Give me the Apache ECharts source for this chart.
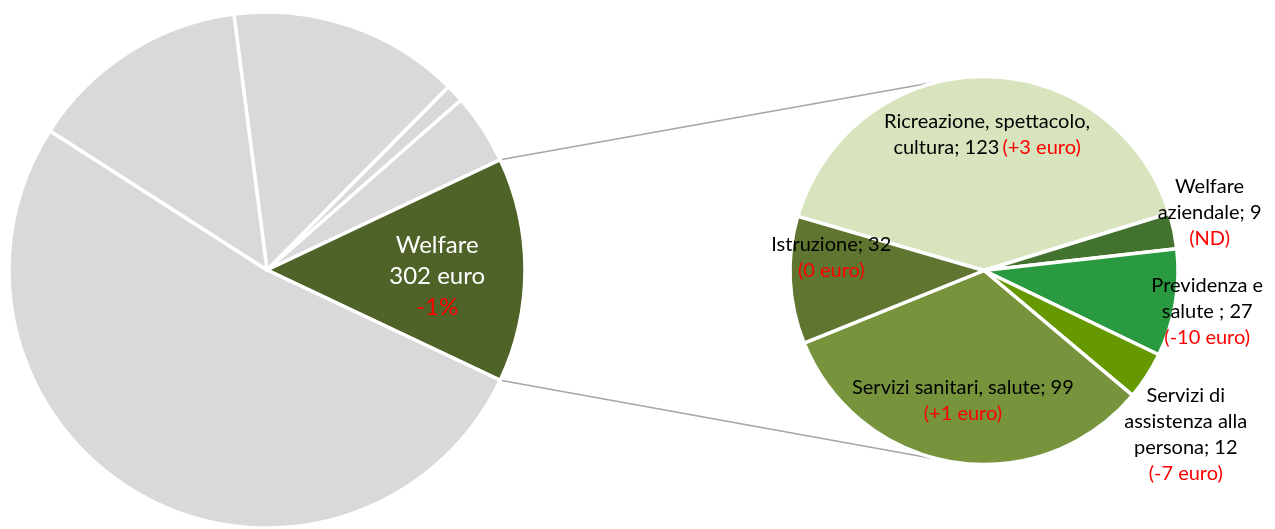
<!DOCTYPE html>
<html>
<head>
<meta charset="utf-8">
<script src="https://cdn.jsdelivr.net/npm/echarts@6/dist/echarts.min.js"></script>
<style>
  html, body { margin: 0; padding: 0; background: #ffffff; }
  #chart { width: 1275px; height: 529px; }
</style>
</head>
<body>
<div id="chart"></div>
<script>
// Main pie: household spending split, with the welfare share broken out
const mainNames = ['Voce A', 'Voce B', 'Voce C', 'Welfare', 'Voce D', 'Voce E'];
const mainValues = [311, 24, 95, 302, 1118, 298];
const mainChanges = ['', '', '', '-1%', '', ''];
const splitIndex = 3;

// Detail pie: welfare spending (euro) and change on the previous year
const detailNames = [
  'Ricreazione, spettacolo,\ncultura',
  'Welfare\naziendale',
  'Previdenza e\nsalute ',
  'Servizi di\nassistenza alla\npersona',
  'Servizi sanitari, salute',
  'Istruzione'
];
const detailValues = [123, 9, 27, 12, 99, 32];
const detailChanges = ['(+3 euro)', '(ND)', '(-10 euro)', '(-7 euro)', '(+1 euro)', '(0 euro)'];

// ---- layout and styling ----
const FONT = 'Lato, "Open Sans", sans-serif';
const L = { cx: 267, cy: 270, r: 258 };
const R = { cx: 984, cy: 270.5, r: 194 };
const grey = '#D9D9D9';
const welfareColor = '#4F6228';
const detailColors = ['#D7E4BD', '#43722F', '#2A9A40', '#669900', '#77933C', '#5F7530'];
const detailStart = 163.8;
// label anchors: [fraction of radius, angle in degrees]
const detailAnchors = [[0.70, 88.7], [1.20, 14.3], [1.17, -10.5], [1.34, -39.1], [0.68, -99.2], [0.79, 175.3]];
const changeSameLine = [true, false, false, false, false, false];
const mainAnchor = [0.66, -2];

const rad = d => d * Math.PI / 180;
const total = mainValues.reduce((a, b) => a + b, 0);
const before = mainValues.slice(0, splitIndex).reduce((a, b) => a + b, 0);
const splitVal = mainValues[splitIndex];
// centre the broken-out slice on the horizontal axis
const mainStart = (before + splitVal / 2) / total * 360;
const edgeTop = mainStart - before / total * 360;
const edgeBottom = edgeTop - splitVal / total * 360;

function polar(c, f, a) {
  return [c.cx + f * c.r * Math.cos(rad(a)), c.cy - f * c.r * Math.sin(rad(a))];
}

// tangent point from an outside point to the detail circle
function tangent(p, upper) {
  const dx = R.cx - p[0], dy = R.cy - p[1];
  const d = Math.hypot(dx, dy);
  const base = Math.atan2(dy, dx);
  const alpha = Math.asin(R.r / d);
  const t = Math.sqrt(d * d - R.r * R.r);
  const dir = upper ? base - alpha : base + alpha;
  return [p[0] + t * Math.cos(dir), p[1] + t * Math.sin(dir)];
}

const pTop = polar(L, 1, edgeTop);
const pBot = polar(L, 1, edgeBottom);
const tTop = tangent(pTop, true);
const tBot = tangent(pBot, false);

const mainData = mainNames.map((n, i) => ({
  name: n,
  value: mainValues[i],
  itemStyle: { color: i === splitIndex ? welfareColor : grey },
  label: { show: i === splitIndex }
}));

const detailData = detailNames.map((n, i) => ({
  name: n,
  value: detailValues[i],
  itemStyle: { color: detailColors[i] }
}));

const chart = echarts.init(document.getElementById('chart'), null, { renderer: 'canvas' });

chart.setOption({
  backgroundColor: '#ffffff',
  animation: false,
  graphic: [
    { type: 'line', z: 0, shape: { x1: pTop[0], y1: pTop[1], x2: tTop[0], y2: tTop[1] },
      style: { stroke: '#A6A6A6', lineWidth: 1.6 } },
    { type: 'line', z: 0, shape: { x1: pBot[0], y1: pBot[1], x2: tBot[0], y2: tBot[1] },
      style: { stroke: '#A6A6A6', lineWidth: 1.6 } }
  ],
  series: [
    {
      type: 'pie',
      silent: true,
      center: [L.cx, L.cy],
      radius: L.r,
      startAngle: mainStart,
      clockwise: true,
      avoidLabelOverlap: false,
      itemStyle: { borderColor: '#ffffff', borderWidth: 3.5 },
      label: {
        position: 'inside',
        fontFamily: FONT,
        formatter: p => '{w|' + p.name + '}\n{w|' + p.value + ' euro}\n{r|' + mainChanges[p.dataIndex] + '}',
        rich: {
          w: { color: '#ffffff', fontSize: 24, lineHeight: 31, fontFamily: FONT },
          r: { color: '#FF0000', fontSize: 24, lineHeight: 31, fontFamily: FONT }
        }
      },
      labelLine: { show: false },
      labelLayout: p => {
        const pt = polar(L, mainAnchor[0], mainAnchor[1]);
        return { x: pt[0], y: pt[1], align: 'center', verticalAlign: 'middle' };
      },
      data: mainData
    },
    {
      type: 'pie',
      silent: true,
      center: [R.cx, R.cy],
      radius: R.r,
      startAngle: detailStart,
      clockwise: true,
      avoidLabelOverlap: false,
      itemStyle: { borderColor: '#ffffff', borderWidth: 3.5 },
      label: {
        position: 'inside',
        fontFamily: FONT,
        formatter: p => {
          const i = p.dataIndex;
          const lines = (p.name + '; ' + p.value).split('\n').map(s => '{n|' + s + '}');
          const ch = '{r|' + detailChanges[i] + '}';
          if (changeSameLine[i]) {
            lines[lines.length - 1] += ' ' + ch;
          } else {
            lines.push(ch);
          }
          return lines.join('\n');
        },
        rich: {
          n: { color: '#000000', fontSize: 20, lineHeight: 26, fontFamily: FONT },
          r: { color: '#FF0000', fontSize: 20, lineHeight: 26, fontFamily: FONT }
        }
      },
      labelLine: { show: false },
      labelLayout: p => {
        const a = detailAnchors[p.dataIndex];
        const pt = polar(R, a[0], a[1]);
        return { x: pt[0], y: pt[1], align: 'center', verticalAlign: 'middle' };
      },
      data: detailData
    }
  ]
});
</script>
</body>
</html>
